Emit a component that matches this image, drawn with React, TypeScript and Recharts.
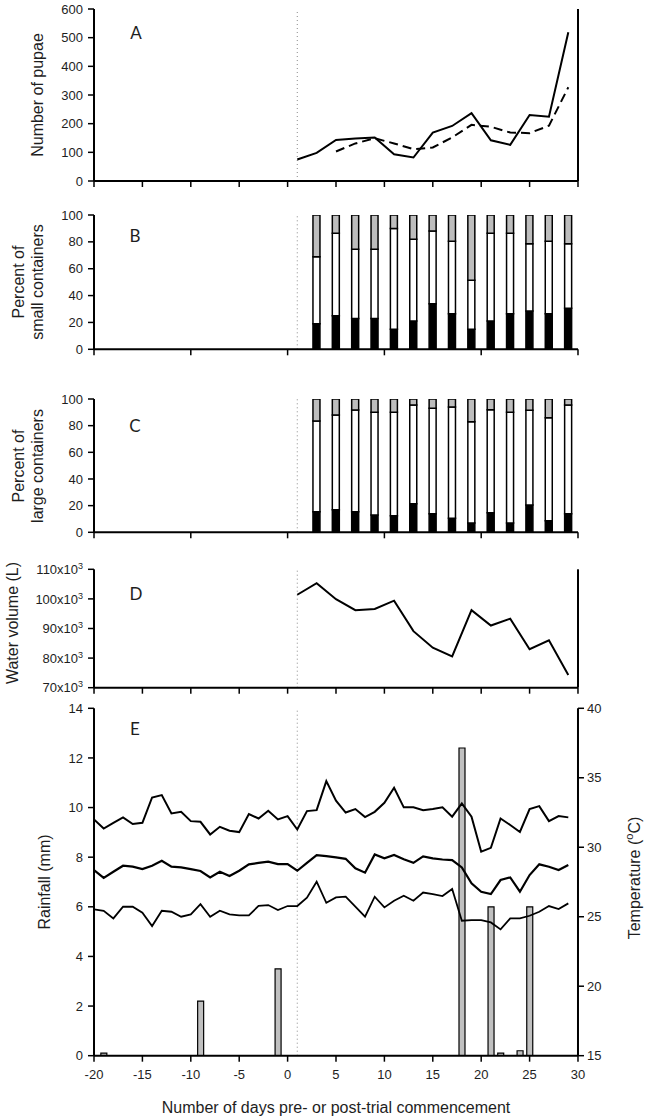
import React from 'react';
import { ComposedChart, Line, Bar, XAxis, YAxis, ReferenceLine } from 'recharts';

// ---------- DATA ----------
const pupaeDays = [1, 3, 5, 7, 9, 11, 13, 15, 17, 19, 21, 23, 25, 27, 29];
const pupaeSolid = [75, 98, 143, 148, 152, 93, 82, 169, 192, 237, 142, 126, 230, 224, 519];
const pupaeDashed = [null, null, 103, 131, 149, 131, 111, 117, 152, 196, 189, 169, 167, 193, 327];

const containerDays = [3, 5, 7, 9, 11, 13, 15, 17, 19, 21, 23, 25, 27, 29];
const smallBlack = [19, 25, 23, 23, 15, 21, 34, 26.5, 15, 21, 26.5, 28.5, 26.5, 30.5];
const smallWhite = [50, 61.5, 51.5, 51.5, 75, 61, 54, 54, 36.5, 65.5, 60, 50, 54, 48];
const smallGray = [31, 13.5, 25.5, 25.5, 10, 18, 12, 19.5, 48.5, 13.5, 13.5, 21.5, 19.5, 21.5];
const largeBlack = [15.5, 17, 15.5, 13, 12.5, 21.5, 14, 10.5, 7, 14.75, 7, 20.5, 8.75, 14];
const largeWhite = [68, 71, 76.25, 77, 77.5, 74, 79, 83.5, 76, 77.25, 83, 71, 77.25, 81.5];
const largeGray = [16.5, 12, 8.25, 10, 10, 4.5, 7, 6, 17, 8, 10, 8.5, 14, 4.5];

const volumeDays = [1, 3, 5, 7, 9, 11, 13, 15, 17, 19, 21, 23, 25, 27, 29];
const waterVolume = [101400, 105300, 99900, 96200, 96600, 99400, 89100, 83500, 80600, 96200, 91000, 93300, 83000, 86000, 74300];

const weatherDays = [
  -20, -19, -18, -17, -16, -15, -14, -13, -12, -11, -10, -9, -8, -7, -6, -5, -4, -3, -2, -1,
  0, 1, 2, 3, 4, 5, 6, 7, 8, 9, 10, 11, 12, 13, 14, 15, 16, 17, 18, 19,
  20, 21, 22, 23, 24, 25, 26, 27, 28, 29,
];
const tempMax = [
  32.0, 31.35, 31.76, 32.15, 31.67, 31.76, 33.58, 33.75, 32.43, 32.55, 31.88, 31.83, 30.92, 31.47, 31.19, 31.09, 32.39, 32.07, 32.63, 32.0,
  32.24, 31.28, 32.6, 32.67, 34.76, 33.35, 32.5, 32.75, 32.17, 32.55, 33.2, 34.28, 32.87, 32.87, 32.67, 32.75, 32.87, 32.2, 33.15, 32.2,
  29.68, 29.96, 32.07, 31.6, 31.1, 32.75, 32.96, 31.88, 32.24, 32.15,
];
const tempMean = [
  28.36, 27.8, 28.24, 28.67, 28.6, 28.43, 28.67, 29.03, 28.6, 28.55, 28.43, 28.29, 27.83, 28.24, 27.93, 28.31, 28.77, 28.87, 28.96, 28.79,
  28.79, 28.31, 28.88, 29.44, 29.36, 29.27, 29.17, 28.48, 28.17, 29.48, 29.2, 29.44, 29.13, 28.88, 29.34, 29.2, 29.12, 29.08, 28.55, 27.4,
  26.8, 26.63, 27.64, 27.83, 26.8, 28.0, 28.77, 28.6, 28.36, 28.72,
];
const tempMin = [
  25.53, 25.43, 24.88, 25.72, 25.72, 25.29, 24.33, 25.43, 25.36, 25.0, 25.17, 25.91, 25.0, 25.43, 25.17, 25.1, 25.1, 25.78, 25.84, 25.48,
  25.77, 25.77, 26.37, 27.52, 26.0, 26.39, 26.44, 25.72, 25.0, 26.44, 25.67, 26.15, 26.51, 26.15, 26.74, 26.63, 26.49, 26.99, 24.71, 24.76,
  24.76, 24.59, 24.09, 24.88, 24.88, 25.07, 25.36, 25.77, 25.55, 25.96,
];
const rainDays = [-19, -9, -1, 18, 21, 22, 24, 25];
const rainValues = [0.1, 2.2, 3.5, 12.4, 6.0, 0.1, 0.2, 6.0];

const xTicks5 = [-20, -15, -10, -5, 0, 5, 10, 15, 20, 25, 30];
const xTicks10 = [-20, -10, 0, 10, 20, 30];
const pupaeTicks = [0, 100, 200, 300, 400, 500, 600];
const pctTicks = [0, 20, 40, 60, 80, 100];
const volumeTicks = [70000, 80000, 90000, 100000, 110000];
const rainTicks = [0, 2, 4, 6, 8, 10, 12, 14];
const tempTicks = [15, 20, 25, 30, 35, 40];
const trialStartDay = 1;

// ---------- TABLES ----------
const pupaeData = pupaeDays.map((d, i) => ({ day: d, solid: pupaeSolid[i], dashed: pupaeDashed[i] }));
const smallData = containerDays.map((d, i) => ({ day: d, black: smallBlack[i], white: smallWhite[i], gray: smallGray[i] }));
const largeData = containerDays.map((d, i) => ({ day: d, black: largeBlack[i], white: largeWhite[i], gray: largeGray[i] }));
const volumeData = volumeDays.map((d, i) => ({ day: d, vol: waterVolume[i] }));
const weatherData = weatherDays.map((d, i) => {
  const r = rainDays.indexOf(d);
  return { day: d, tmax: tempMax[i], tmean: tempMean[i], tmin: tempMin[i], rain: r >= 0 ? rainValues[r] : null };
});

// ---------- STYLE ----------
const W = 645;
const FONT = '"Liberation Sans", Arial, sans-serif';
const TEXT = '#1e1e1e';

const xProps = (ticks: number[], labels: boolean) => ({
  type: 'number' as const,
  dataKey: 'day',
  domain: [-20, 30],
  ticks,
  interval: 0,
  allowDataOverflow: true,
  axisLine: { stroke: '#000', strokeWidth: 2 },
  tickLine: { stroke: '#000', strokeWidth: 1.5 },
  tickSize: 6,
  tickMargin: 8,
  tick: { fill: TEXT, fontSize: 13, fontFamily: FONT },
  tickFormatter: labels ? (v: number) => String(v) : () => '',
  height: labels ? 28 : 10,
});

const yProps = (domain: number[], ticks: number[]) => ({
  type: 'number' as const,
  domain,
  ticks,
  interval: 0,
  allowDataOverflow: true,
  width: 94,
  axisLine: { stroke: '#000', strokeWidth: 2 },
  tickLine: { stroke: '#000', strokeWidth: 1.5 },
  tickSize: 6,
  tickMargin: 5,
  tick: { fill: TEXT, fontSize: 13, fontFamily: FONT },
});

const dotted = { stroke: '#8a8a8a', strokeWidth: 1, strokeDasharray: '1 3' };

const VolumeTick = (props: any) => {
  const { x, y, payload } = props;
  return (
    <text x={x} y={y} textAnchor="end" dy="0.36em" fill={TEXT} fontSize={13} fontFamily={FONT}>
      {`${payload.value / 1000}x10`}
      <tspan dy={-5} fontSize={9}>3</tspan>
    </text>
  );
};

const abs = (top: number): React.CSSProperties => ({ position: 'absolute', left: 0, top });

export default function App() {
  return (
    <div style={{ position: 'absolute', left: 0, top: 0, width: W, height: 1120, background: '#fff', fontFamily: FONT }}>
      {/* A */}
      <div style={abs(0)}>
        <ComposedChart width={W} height={191} data={pupaeData} margin={{ top: 9, right: 67, bottom: 0, left: 0 }}>
          <XAxis {...xProps(xTicks5, false)} />
          <YAxis {...yProps([0, 600], pupaeTicks)} />
          <ReferenceLine x={trialStartDay} {...dotted} />
          <ReferenceLine x={30} stroke="#000" strokeWidth={2} />
          <Line dataKey="dashed" stroke="#000" strokeWidth={2} strokeDasharray="9 5" dot={false} isAnimationActive={false} connectNulls={false} />
          <Line dataKey="solid" stroke="#000" strokeWidth={2} dot={false} isAnimationActive={false} />
        </ComposedChart>
      </div>

      {/* B */}
      <div style={abs(200)}>
        <ComposedChart width={W} height={159.3} data={smallData} margin={{ top: 15, right: 67, bottom: 0, left: 0 }}>
          <XAxis {...xProps(xTicks10, false)} />
          <YAxis {...yProps([0, 100], pctTicks)} />
          <ReferenceLine x={trialStartDay} {...dotted} />
          <Bar dataKey="black" stackId="s" barSize={7} fill="#000" stroke="#000" strokeWidth={1.5} isAnimationActive={false} />
          <Bar dataKey="white" stackId="s" barSize={7} fill="#fff" stroke="#000" strokeWidth={1.5} isAnimationActive={false} />
          <Bar dataKey="gray" stackId="s" barSize={7} fill="#bdbdbd" stroke="#000" strokeWidth={1.5} isAnimationActive={false} />
        </ComposedChart>
      </div>

      {/* C */}
      <div style={abs(380)}>
        <ComposedChart width={W} height={162.3} data={largeData} margin={{ top: 19, right: 67, bottom: 0, left: 0 }}>
          <XAxis {...xProps(xTicks10, false)} />
          <YAxis {...yProps([0, 100], pctTicks)} />
          <ReferenceLine x={trialStartDay} {...dotted} />
          <Bar dataKey="black" stackId="l" barSize={7} fill="#000" stroke="#000" strokeWidth={1.5} isAnimationActive={false} />
          <Bar dataKey="white" stackId="l" barSize={7} fill="#fff" stroke="#000" strokeWidth={1.5} isAnimationActive={false} />
          <Bar dataKey="gray" stackId="l" barSize={7} fill="#bdbdbd" stroke="#000" strokeWidth={1.5} isAnimationActive={false} />
        </ComposedChart>
      </div>

      {/* D */}
      <div style={abs(550)}>
        <ComposedChart width={W} height={147.7} data={volumeData} margin={{ top: 19.3, right: 67, bottom: 0, left: 0 }}>
          <XAxis {...xProps(xTicks5, false)} />
          <YAxis {...yProps([70000, 110000], volumeTicks)} tick={<VolumeTick />} />
          <ReferenceLine x={trialStartDay} {...dotted} />
          <ReferenceLine x={30} stroke="#000" strokeWidth={2} />
          <Line dataKey="vol" stroke="#000" strokeWidth={2} dot={false} isAnimationActive={false} />
        </ComposedChart>
      </div>

      {/* E */}
      <div style={abs(695)}>
        <ComposedChart width={W} height={388.7} data={weatherData} margin={{ top: 13.3, right: 17, bottom: 0, left: 0 }}>
          <XAxis {...xProps(xTicks5, true)} />
          <YAxis yAxisId="rain" {...yProps([0, 14], rainTicks)} />
          <YAxis
            yAxisId="temp"
            orientation="right"
            {...yProps([15, 40], tempTicks)}
            width={50}
            tickMargin={3}
          />
          <ReferenceLine yAxisId="rain" x={trialStartDay} {...dotted} />
          <Bar yAxisId="rain" dataKey="rain" barSize={6} fill="#c0c0c0" stroke="#000" strokeWidth={1.2} isAnimationActive={false} />
          <Line yAxisId="temp" dataKey="tmax" stroke="#000" strokeWidth={2} dot={false} isAnimationActive={false} />
          <Line yAxisId="temp" dataKey="tmean" stroke="#000" strokeWidth={2.2} dot={false} isAnimationActive={false} />
          <Line yAxisId="temp" dataKey="tmin" stroke="#000" strokeWidth={1.8} dot={false} isAnimationActive={false} />
        </ComposedChart>
      </div>

      {/* annotations */}
      <svg width={W} height={1120} style={{ position: 'absolute', left: 0, top: 0, pointerEvents: 'none' }}>
        <g fontFamily="Lato, 'Open Sans', sans-serif" fontSize={17} fill={TEXT} textAnchor="middle" dominantBaseline="central">
          <text x={136} y={32}>A</text>
          <text x={135} y={235}>B</text>
          <text x={135} y={425}>C</text>
          <text x={136} y={593}>D</text>
          <text x={135} y={728}>E</text>
        </g>
        <g fontFamily={FONT} fontSize={16} fill={TEXT} textAnchor="middle" dominantBaseline="central">
          <text transform="translate(37,95) rotate(-90)">Number of pupae</text>
          <text transform="translate(18.5,282) rotate(-90)">Percent of</text>
          <text transform="translate(37.5,282) rotate(-90)">small containers</text>
          <text transform="translate(18.5,466) rotate(-90)">Percent of</text>
          <text transform="translate(37.5,466) rotate(-90)">large containers</text>
          <text transform="translate(12,623) rotate(-90)">Water volume (L)</text>
          <text transform="translate(44,882) rotate(-90)">Rainfall (mm)</text>
          <text transform="translate(634,878) rotate(-90)">
            Temperature (<tspan dy={-5} fontSize={11}>o</tspan><tspan dy={5}>C)</tspan>
          </text>
          <text x={336} y={1107}>Number of days pre- or post-trial commencement</text>
        </g>
      </svg>
    </div>
  );
}
